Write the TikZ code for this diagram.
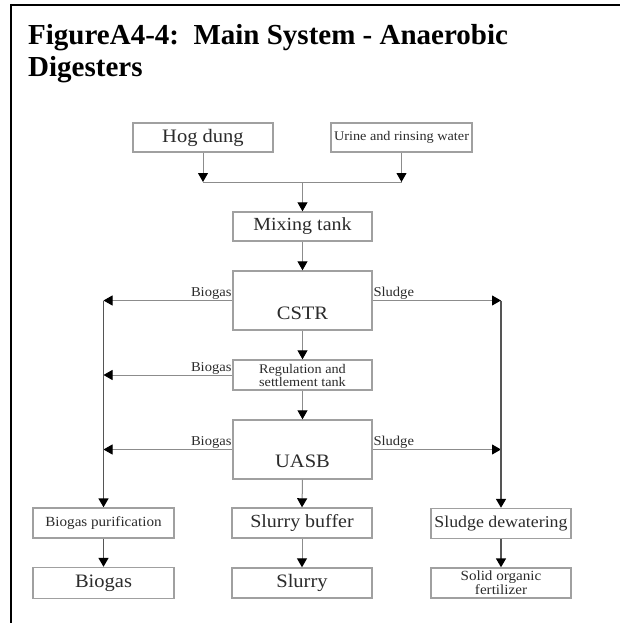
\documentclass[tikz,border=0pt]{standalone}
\usepackage{fontspec}
\setmainfont{Liberation Serif}
\newfontfamily\dfont{Liberation Serif}[FakeStretch=1.08]
\usetikzlibrary{arrows.meta}
\definecolor{txt}{HTML}{2B2B2B}
\definecolor{boxc}{HTML}{A0A0A0}
\definecolor{linec}{HTML}{8C8C8C}
\definecolor{colc}{HTML}{555555}
\begin{document}
\begin{tikzpicture}[x=1pt,y=-1pt,
  box/.style={draw=boxc, line width=1.4pt, minimum width=140pt, minimum height=30pt, inner sep=0pt, text=txt, align=center},
  txtnode/.style={inner sep=0pt, text=txt, align=center},
  lab/.style={text=txt, font=\dfont\fontsize{13.5}{14}\selectfont, inner sep=0.6pt},
  conn/.style={draw=linec, line width=1pt},
  arr/.style={conn, -{Triangle[width=10pt,length=9pt,color=black]}},
  col/.style={draw=colc, line width=1.6pt},
  colarr/.style={col, -{Triangle[width=10pt,length=9pt,color=black]}},
]
\useasboundingbox (0,0) rectangle (620,623);
\fill[white] (0,0) rectangle (620,623);
% frame
\draw[line width=2pt] (10,5) -- (620,5);
\draw[line width=2.6pt] (11,4) -- (11,623);
% title
\node[anchor=north west, inner sep=0pt, align=left, font=\bfseries\fontsize{29}{32}\selectfont] (title) at (28,24.5) {FigureA4-4:\ \ Main System - Anaerobic\\Digesters};
% boxes
\node[box, minimum height=29pt, font=\dfont\fontsize{19}{21}\selectfont] (hog) at (203,137.5) {Hog dung};
\node[box, minimum width=141pt, minimum height=29pt, font=\dfont\fontsize{13.2}{15}\selectfont] (urine) at (401.5,137.5) {Urine and rinsing water};
\node[box, minimum width=139pt, minimum height=29pt, font=\dfont\fontsize{18.5}{20}\selectfont] (mix) at (302.5,226.5) {Mixing tank};
\node[box, minimum width=139pt, minimum height=59pt] (cstr) at (302.5,300.5) {};
\node[txtnode, font=\dfont\fontsize{19}{21}\selectfont] (cstrt) at (302.5,313) {CSTR};
\node[box, minimum width=139pt, minimum height=30pt, font=\dfont\fontsize{13.2}{13}\selectfont] (reg) at (302.5,375) {Regulation and\\settlement tank};
\node[box, minimum width=139pt, minimum height=59pt] (uasb) at (302.5,449.5) {};
\node[txtnode, font=\dfont\fontsize{19}{21}\selectfont] (uasbt) at (302.5,461.5) {UASB};
\node[box, minimum width=141pt, font=\dfont\fontsize{14}{16}\selectfont] (bpur) at (103.5,523) {Biogas purification};
\node[box, font=\dfont\fontsize{18.5}{20}\selectfont] (slbuf) at (302,523) {Slurry buffer};
\node[box, font=\dfont\fontsize{16.5}{18}\selectfont] (sdew) at (501,523.5) {Sludge dewatering};
\node[box, minimum width=141pt, minimum height=31pt, font=\dfont\fontsize{19}{21}\selectfont] (biog) at (103.5,583) {Biogas};
\node[box, font=\dfont\fontsize{19}{21}\selectfont] (slurry) at (302,583) {Slurry};
\node[box, font=\dfont\fontsize{14}{12.5}\selectfont] (solid) at (501,583) {Solid organic\\fertilizer};
% side labels
\node[lab, anchor=south east] (lb1) at (cstr.west) {Biogas};
\node[lab, anchor=south west] (ls1) at (cstr.east) {Sludge};
\node[lab, anchor=south east] (lb2) at (reg.west) {Biogas};
\node[lab, anchor=south east] (lb3) at (uasb.west) {Biogas};
\node[lab, anchor=south west] (ls3) at (uasb.east) {Sludge};
% connectors
\coordinate (j) at (302.5,182);
\draw[conn] (hog.south |- j) -- (urine.south |- j);
\draw[arr] (hog.south) -- (hog.south |- j);
\draw[arr] (urine.south) -- (urine.south |- j);
\draw[arr] (j) -- (mix.north);
\draw[arr] (mix.south) -- (cstr.north);
\draw[arr] (cstr.south) -- (reg.north);
\draw[arr] (reg.south) -- (uasb.north);
\draw[arr] (uasb.south) -- (slbuf.north);
\draw[arr] (slbuf.south) -- (slurry.north);
\draw[colarr] (bpur.south) -- (biog.north);
\draw[colarr] (sdew.south) -- (solid.north);
\draw[arr] (cstr.west) -- (cstr.west -| bpur.north);
\draw[arr] (reg.west) -- (reg.west -| bpur.north);
\draw[arr] (uasb.west) -- (uasb.west -| bpur.north);
\draw[colarr] (cstr.west -| bpur.north) -- (bpur.north);
\draw[arr] (cstr.east) -- (cstr.east -| sdew.north);
\draw[arr] (uasb.east) -- (uasb.east -| sdew.north);
\draw[colarr] (cstr.east -| sdew.north) -- (sdew.north);
\end{tikzpicture}
\end{document}
